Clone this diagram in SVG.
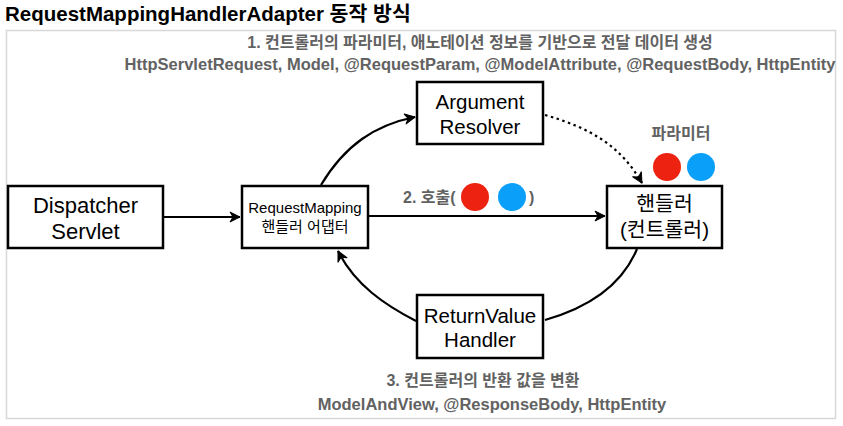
<svg xmlns="http://www.w3.org/2000/svg" width="843" height="426" viewBox="0 0 843 426">
<defs>
<style>
.box{fill:#fff;stroke:#000;stroke-width:2.5}
.lbl{font-family:"Liberation Sans","Noto Sans CJK KR",sans-serif;font-size:20.5px;fill:#000;text-anchor:middle}
.note{font-family:"Liberation Sans","Noto Sans CJK KR",sans-serif;font-size:16.5px;font-weight:bold;fill:#626262;text-anchor:middle}
.edge{fill:none;stroke:#000;stroke-width:2.2}
</style>
<marker id="ah" viewBox="0 0 12 12" refX="11" refY="6" markerWidth="12" markerHeight="12" markerUnits="userSpaceOnUse" orient="auto">
<path d="M1,1 L11,6 L1,11 L4,6 z" fill="#000" stroke="#000" stroke-width="1" stroke-linejoin="round"/>
</marker>
</defs>
<rect width="843" height="426" fill="#fff"/>
<text x="5" y="21" style="font-family:'Liberation Sans','Noto Sans CJK KR',sans-serif;font-size:20.5px;font-weight:bold;fill:#000">RequestMappingHandlerAdapter 동작 방식</text>
<rect x="6.5" y="30.5" width="829" height="388" fill="none" stroke="#d8d8d8" stroke-width="1.5"/>

<g id="connectors">
<path class="edge" d="M164,217 L240,217" marker-end="url(#ah)"/>
<path class="edge" d="M369,216 L605,216" marker-end="url(#ah)"/>
<path class="edge" d="M321,185 C345,145 375,125 415,117" marker-end="url(#ah)"/>
<path class="edge" d="M545,115 C590,128 620,145 642,183" stroke-dasharray="2.5,3.5" stroke-width="3.5" marker-end="url(#ah)"/>
<path class="edge" d="M637,249 C620,290 580,310 545,320"/>
<path class="edge" d="M416,321 C385,305 355,285 338,251" marker-end="url(#ah)"/>
</g>

<g id="dispatcher">
<rect class="box" x="8" y="186" width="155" height="62"/>
<text class="lbl" x="85.5" y="213" style="font-size:22px">Dispatcher</text>
<text class="lbl" x="85.5" y="239" style="font-size:22px">Servlet</text>
</g>
<g id="adapter">
<rect class="box" x="242" y="186" width="126" height="62"/>
<text class="lbl" x="305" y="213" style="font-size:15px">RequestMapping</text>
<text class="lbl" x="305" y="232" style="font-size:15px">핸들러 어댑터</text>
</g>
<g id="argresolver">
<rect class="box" x="417" y="82" width="126" height="62"/>
<text class="lbl" x="480" y="109">Argument</text>
<text class="lbl" x="480" y="134">Resolver</text>
</g>
<g id="handler">
<rect class="box" x="607" y="186" width="115" height="62"/>
<text class="lbl" x="664.5" y="211">핸들러</text>
<text class="lbl" x="664.5" y="237">(컨트롤러)</text>
</g>
<g id="returnvalue">
<rect class="box" x="417" y="295" width="126" height="63"/>
<text class="lbl" x="480" y="323">ReturnValue</text>
<text class="lbl" x="480" y="347">Handler</text>
</g>

<g id="labels">
<text class="note" x="480" y="48" style="font-size:16px">1. 컨트롤러의 파라미터, 애노테이션 정보를 기반으로 전달 데이터 생성</text>
<text class="note" x="480" y="70">HttpServletRequest, Model, @RequestParam, @ModelAttribute, @RequestBody, HttpEntity</text>
<text class="note" x="681" y="139" style="font-size:16px">파라미터</text>
<circle cx="667" cy="167" r="14" fill="#ee2211"/>
<circle cx="701" cy="167" r="14" fill="#0a9ff8"/>
<text class="note" x="403" y="203" style="text-anchor:start;font-size:16px">2. 호출(</text>
<circle cx="475" cy="197" r="14" fill="#ee2211"/>
<circle cx="512" cy="197" r="14" fill="#0a9ff8"/>
<text class="note" x="529" y="203" style="text-anchor:start;font-size:16px">)</text>
<text class="note" x="483" y="386" style="font-size:16px">3. 컨트롤러의 반환 값을 변환</text>
<text class="note" x="492" y="410">ModelAndView, @ResponseBody, HttpEntity</text>
</g>
</svg>
